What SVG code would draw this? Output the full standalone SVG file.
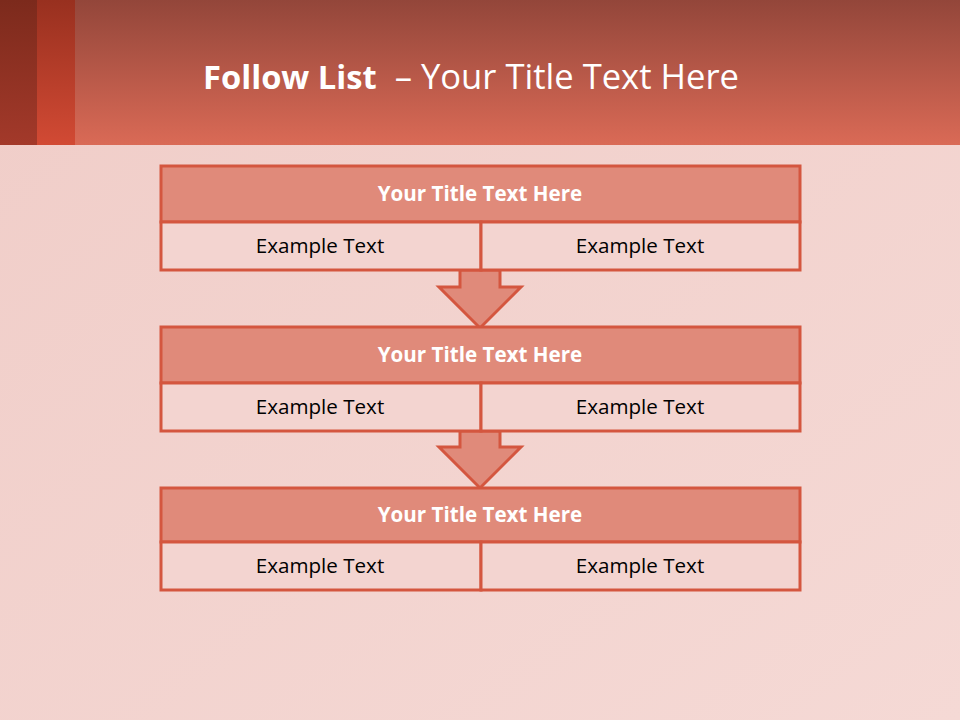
<svg xmlns="http://www.w3.org/2000/svg" width="960" height="720" viewBox="0 0 960 720">
<defs>
<linearGradient id="hdr" x1="0" y1="0" x2="0" y2="1">
<stop offset="0" stop-color="#93463A"/>
<stop offset="1" stop-color="#DA6A56"/>
</linearGradient>
<linearGradient id="band1" x1="0" y1="0" x2="0" y2="1">
<stop offset="0" stop-color="#7C2A1C"/>
<stop offset="1" stop-color="#A3392A"/>
</linearGradient>
<linearGradient id="band2" x1="0" y1="0" x2="0" y2="1">
<stop offset="0" stop-color="#98301F"/>
<stop offset="1" stop-color="#D24A34"/>
</linearGradient>
<linearGradient id="bg" x1="0" y1="0" x2="1" y2="1">
<stop offset="0" stop-color="#F0CDC8"/>
<stop offset="1" stop-color="#F5D9D5"/>
</linearGradient>
</defs>
<style>
.ttl{fill:#E08A7A;stroke:#D4563F;stroke-width:3}
.cell{fill:#F3D4D0;stroke:#D4563F;stroke-width:3}
.arr{fill:#E08A7A;stroke:#D4563F;stroke-width:3;stroke-linejoin:miter}
.th{font-family:"Open Sans","Liberation Sans",sans-serif;font-weight:bold;font-size:20.6px;fill:#FFFFFF;text-anchor:middle}
.tx{font-family:"Open Sans","Liberation Sans",sans-serif;font-size:20.6px;fill:#000000;text-anchor:middle}
</style>
<rect x="0" y="0" width="960" height="720" fill="url(#bg)"/>
<rect x="0" y="0" width="960" height="145" fill="url(#hdr)"/>
<rect x="0" y="0" width="37" height="145" fill="url(#band1)"/>
<rect x="37" y="0" width="38" height="145" fill="url(#band2)"/>
<text x="203" y="89" font-family="'Open Sans','Liberation Sans',sans-serif" fill="#FFFFFF"><tspan font-weight="bold" font-size="32.7">Follow List</tspan><tspan xml:space="preserve" font-size="34.6">  – Your Title Text Here</tspan></text>
<g id="connectors">
<path class="arr" d="M460,270 L500,270 L500,287 L521,287 L480,328 L439,287 L460,287 Z"/>
<path class="arr" d="M460,431 L500,431 L500,447 L521,447 L480,488 L439,447 L460,447 Z"/>
</g>
<g id="box1">
<rect class="ttl" x="161" y="166" width="639" height="56"/>
<rect class="cell" x="161" y="222" width="320" height="48"/>
<rect class="cell" x="481" y="222" width="319" height="48"/>
<text class="th" x="480" y="201">Your Title Text Here</text>
<text class="tx" x="320" y="253">Example Text</text>
<text class="tx" x="640" y="253">Example Text</text>
</g>
<g id="box2">
<rect class="ttl" x="161" y="327" width="639" height="56"/>
<rect class="cell" x="161" y="383" width="320" height="48"/>
<rect class="cell" x="481" y="383" width="319" height="48"/>
<text class="th" x="480" y="362">Your Title Text Here</text>
<text class="tx" x="320" y="414">Example Text</text>
<text class="tx" x="640" y="414">Example Text</text>
</g>
<g id="box3">
<rect class="ttl" x="161" y="488" width="639" height="54"/>
<rect class="cell" x="161" y="542" width="320" height="48"/>
<rect class="cell" x="481" y="542" width="319" height="48"/>
<text class="th" x="480" y="522">Your Title Text Here</text>
<text class="tx" x="320" y="573">Example Text</text>
<text class="tx" x="640" y="573">Example Text</text>
</g>
</svg>
